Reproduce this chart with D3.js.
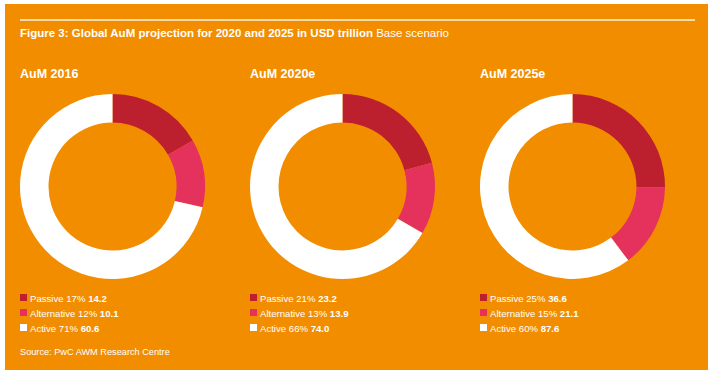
<!DOCTYPE html>
<html><head><meta charset="utf-8">
<script src="https://cdn.jsdelivr.net/npm/d3@7"></script>
<style>html,body{margin:0;padding:0;background:#fff;}svg{display:block;font-family:"Liberation Sans",Arial,sans-serif;}</style>
</head><body><svg id="c" width="720" height="379"></svg>
<script>
const categories = ["Passive", "Alternative", "Active"];
const years = ["AuM 2016", "AuM 2020e", "AuM 2025e"];
const passive = [14.2, 23.2, 36.6];
const alternative = [10.1, 13.9, 21.1];
const active = [60.6, 74.0, 87.6];
const passivePct = ["17%", "21%", "25%"];
const alternativePct = ["12%", "13%", "15%"];
const activePct = ["71%", "66%", "60%"];
const colors = ["#BC1F2E", "#E5325C", "#FFFFFF"];

const svg = d3.select("#c");
svg.append("rect").attr("x",5).attr("y",4).attr("width",703).attr("height",366).attr("fill","#F28D00");
svg.append("line").attr("x1",20).attr("x2",695).attr("y1",20).attr("y2",20).attr("stroke","#FFF4DC").attr("stroke-width",1.5);
const t = svg.append("text").attr("x",20).attr("y",37).attr("fill","#fff").attr("font-size",11.5);
t.append("tspan").attr("font-weight","bold").text("Figure 3: Global AuM projection for 2020 and 2025 in USD trillion");
t.append("tspan").text(" Base scenario");

const xPanel = d3.scaleLinear().domain([0,1]).range([20,250]);
const pie = d3.pie().sort(null).value(d=>d.v);
const arc = d3.arc().innerRadius(64).outerRadius(92.5);

years.forEach((yr,i)=>{
  const x0 = xPanel(i);
  const g = svg.append("g");
  g.append("text").attr("x",x0).attr("y",78).attr("fill","#fff").attr("font-weight","bold").attr("font-size",12.5).text(yr);
  const data = [
    {c:categories[0], v:passive[i], p:passivePct[i]},
    {c:categories[1], v:alternative[i], p:alternativePct[i]},
    {c:categories[2], v:active[i], p:activePct[i]}
  ];
  const dg = g.append("g").attr("transform",`translate(${x0+92.5},186.5)`);
  dg.selectAll("path").data(pie(data)).join("path").attr("d",arc).attr("fill",(d,j)=>colors[j]);
  data.forEach((d,j)=>{
    const y = 298 + j*15;
    g.append("rect").attr("x",x0).attr("y",y-4).attr("width",7).attr("height",7).attr("fill",colors[j]);
    const tx = g.append("text").attr("x",x0+10).attr("y",y+3.5).attr("fill","#fff").attr("font-size",9.6);
    tx.append("tspan").text(`${d.c} ${d.p} `);
    tx.append("tspan").attr("font-weight","bold").text(d.v.toFixed(1));
  });
});
svg.append("text").attr("x",20).attr("y",355).attr("fill","#fff").attr("font-size",9.2).text("Source: PwC AWM Research Centre");
</script></body></html>
